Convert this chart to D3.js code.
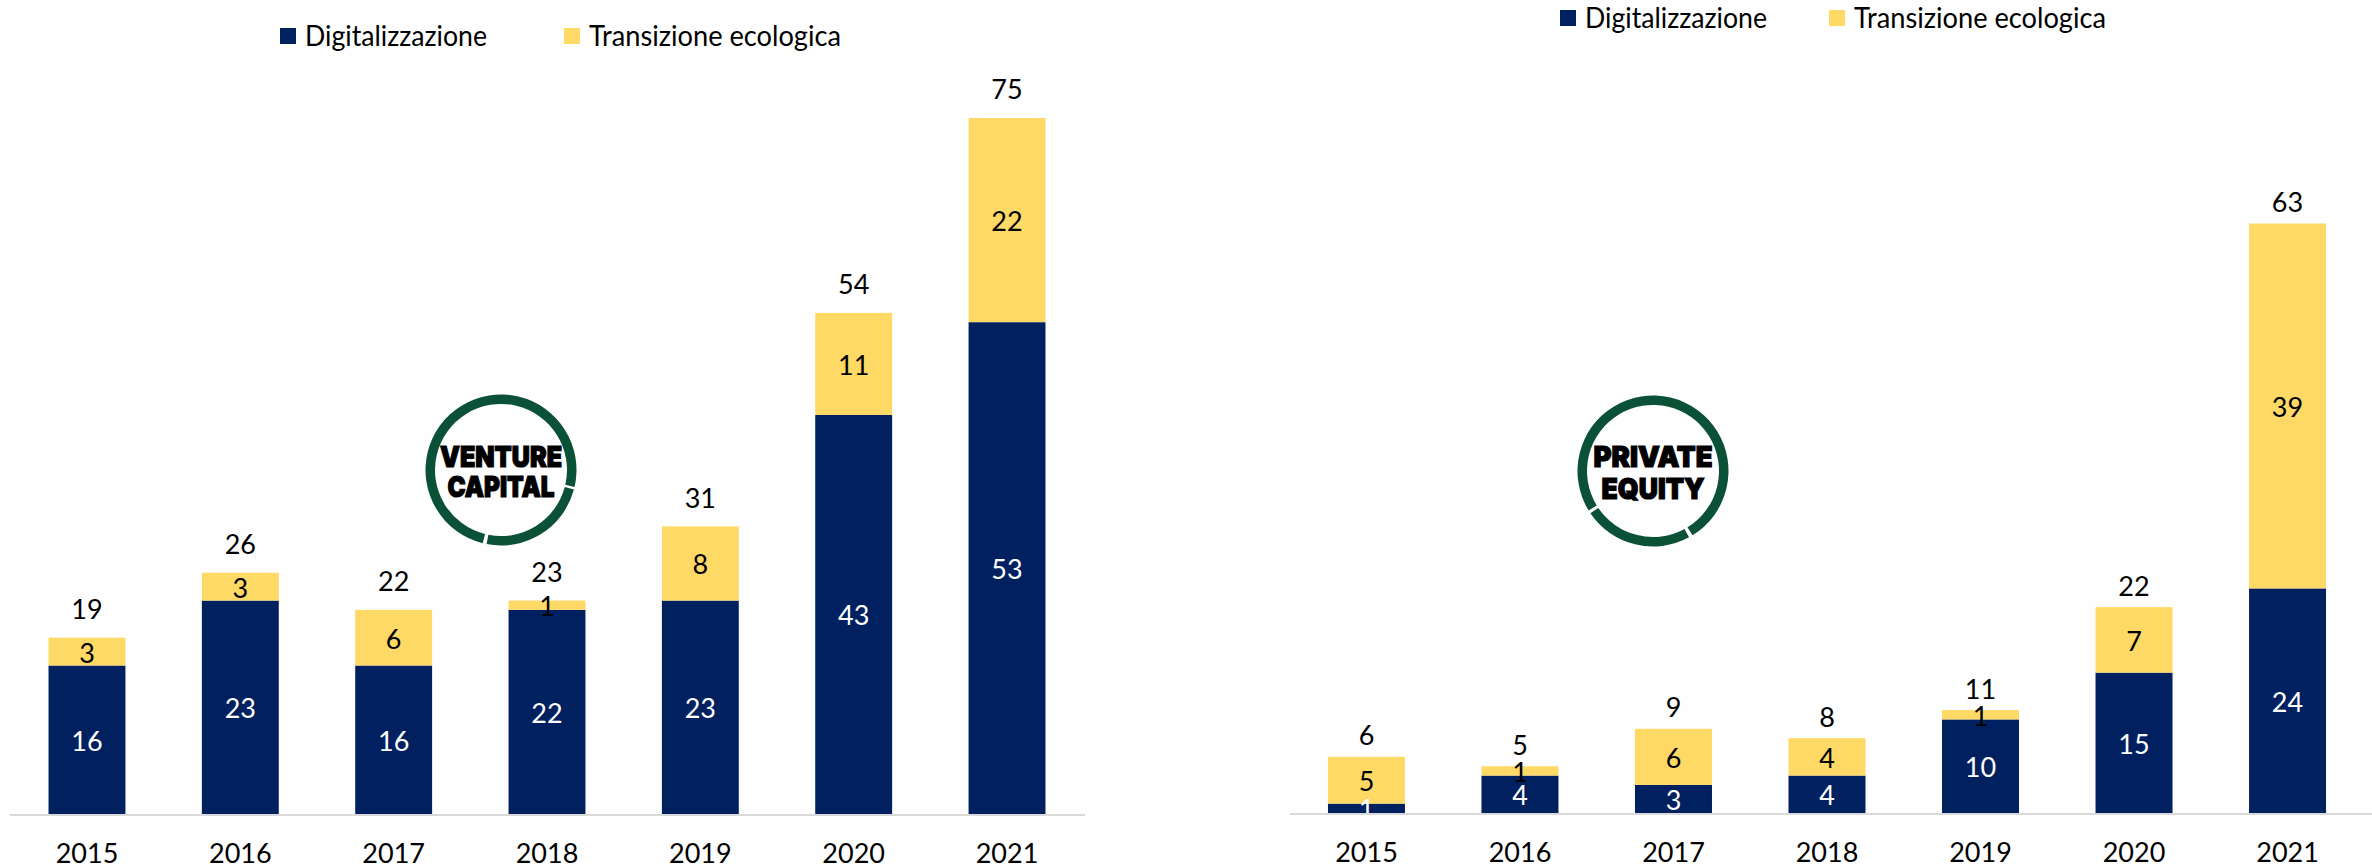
<!DOCTYPE html>
<html>
<head>
<meta charset="utf-8">
<script src="https://cdn.jsdelivr.net/npm/d3@7"></script>
<style>
	html, body { margin: 0; padding: 0; background: #fefefe; }
	svg { display: block; }
	text { font-family: Lato, "Open Sans", sans-serif; }
</style>
</head>
<body>
<div id="chart"></div>
<script>
const years = ['2015', '2016', '2017', '2018', '2019', '2020', '2021'];
const seriesNames = ['Digitalizzazione', 'Transizione ecologica'];
const vcDigital = [16, 23, 16, 22, 23, 43, 53];
const vcEcologica = [3, 3, 6, 1, 8, 11, 22];
const peDigital = [1, 4, 3, 4, 10, 15, 24];
const peEcologica = [5, 1, 6, 4, 1, 7, 39];

const navy = '#002060';
const yellow = '#ffd966';
const green = '#0b5137';
const fontSize = 27;

let svg = d3.select('#chart').append('svg').attr('width', 2372).attr('height', 867);

// one stacked panel, the pixel frame of each panel comes from the cfg
function drawPanel(cfg) {
	let x = d3.scaleBand().domain(years).range(cfg.xRange).paddingInner(0.4985).paddingOuter(0.2493);
	let y = d3.scaleLinear().domain(cfg.yDomain).range([cfg.baseY, cfg.topY]);

	let rows = years.map((yr, i) => ({ year: yr, dig: cfg.digital[i], eco: cfg.ecologica[i] }));
	let stacked = d3.stack().keys(['dig', 'eco'])(rows);
	let colors = [navy, yellow];
	let textColors = ['#ffffff', '#000000'];

	let g = svg.append('g');

	stacked.forEach(function(layer, k) {
		g.selectAll('.bar' + k)
			.data(layer)
			.enter()
			.append('rect')
			.attr('x', d => x(d.data.year))
			.attr('width', x.bandwidth())
			.attr('y', d => y(d[1]))
			.attr('height', d => y(d[0]) - y(d[1]))
			.attr('fill', colors[k]);
	});

	// values inside the segments
	stacked.forEach(function(layer, k) {
		g.selectAll('.val' + k)
			.data(layer)
			.enter()
			.append('text')
			.attr('x', d => x(d.data.year) + x.bandwidth() / 2)
			.attr('y', d => (y(d[0]) + y(d[1])) / 2 + 1.5)
			.attr('dy', '0.35em')
			.attr('text-anchor', 'middle')
			.attr('font-size', fontSize)
			.attr('fill', textColors[k])
			.text(d => d[1] - d[0]);
	});

	// totals on top
	g.selectAll('.total')
		.data(rows)
		.enter()
		.append('text')
		.attr('x', d => x(d.year) + x.bandwidth() / 2)
		.attr('y', d => y(d.dig + d.eco) - cfg.totalOffset)
		.attr('dy', '0.35em')
		.attr('text-anchor', 'middle')
		.attr('font-size', fontSize)
		.attr('fill', '#000')
		.text(d => d.dig + d.eco);

	let axis = g.append('g')
		.attr('transform', 'translate(0,' + (cfg.baseY + 1) + ')')
		.call(d3.axisBottom(x).tickSize(0).tickPadding(0));
	axis.select('.domain').remove();
	axis.append('line')
		.attr('x1', cfg.axisX[0]).attr('x2', cfg.axisX[1])
		.attr('stroke', '#d9d9d9').attr('stroke-width', 2);
	axis.selectAll('.tick text')
		.attr('y', 39)
		.attr('dy', '0.35em')
		.attr('font-size', fontSize)
		.attr('font-family', 'Lato')
		.attr('fill', '#000');

	// legend
	let legend = g.selectAll('.legend')
		.data(seriesNames)
		.enter()
		.append('g')
		.attr('transform', (d, i) => 'translate(' + cfg.legendX[i] + ',' + cfg.legendY + ')');
	legend.append('rect')
		.attr('x', 0).attr('y', -8).attr('width', 16).attr('height', 16)
		.attr('fill', (d, i) => colors[i]);
	legend.append('text')
		.attr('x', 25)
		.attr('dy', '0.35em')
		.attr('font-size', 28)
		.attr('textLength', (d, i) => i == 0 ? 182 : 252)
		.attr('lengthAdjust', 'spacingAndGlyphs')
		.attr('fill', '#000')
		.text(d => d);

	// round badge
	let badge = g.append('g').attr('transform', 'translate(' + cfg.badge.x + ',' + cfg.badge.y + ')');
	let ring = d3.arc().innerRadius(66).outerRadius(75.5);
	badge.selectAll('path')
		.data(cfg.badge.arcs)
		.enter()
		.append('path')
		.attr('d', d => ring({ startAngle: d[0] * Math.PI / 180, endAngle: d[1] * Math.PI / 180 }))
		.attr('fill', green);
	badge.selectAll('text')
		.data(cfg.badge.lines)
		.enter()
		.append('text')
		.attr('y', d => d.dy)
		.attr('text-anchor', 'middle')
		.attr('textLength', d => d.w)
		.attr('lengthAdjust', 'spacingAndGlyphs')
		.attr('font-size', 28.5)
		.attr('font-weight', 900)
		.attr('fill', '#000')
		.attr('stroke', '#000')
		.attr('stroke-width', 1.2)
		.style('font-family', 'Inter, Roboto, sans-serif')
		.text(d => d.t);
}

drawPanel({
	digital: vcDigital,
	ecologica: vcEcologica,
	xRange: [10.3, 1083.7],
	yDomain: [0, 75],
	baseY: 814,
	topY: 118,
	totalOffset: 28,
	axisX: [10, 1085],
	legendX: [280, 564],
	legendY: 36,
	badge: {
		x: 501, y: 470,
		arcs: [[105, 191], [194, 463]],
		lines: [{ t: 'VENTURE', dy: -3, w: 122 }, { t: 'CAPITAL', dy: 27, w: 107 }]
	}
});

drawPanel({
	digital: peDigital,
	ecologica: peEcologica,
	xRange: [1289.7, 2364.3],
	yDomain: [0, 63],
	baseY: 813,
	topY: 223.5,
	totalOffset: 21,
	axisX: [1290, 2372],
	legendX: [1560, 1829],
	legendY: 18,
	badge: {
		x: 1653, y: 471,
		arcs: [[-121.5, 148.5], [151.5, 236]],
		lines: [{ t: 'PRIVATE', dy: -4, w: 119 }, { t: 'EQUITY', dy: 28, w: 103 }]
	}
});
</script>
</body>
</html>
